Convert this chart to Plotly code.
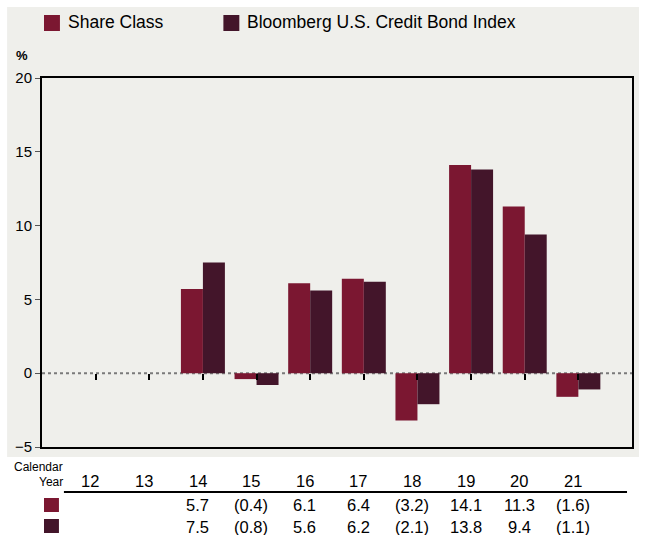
import plotly.graph_objects as go

years = [12, 13, 14, 15, 16, 17, 18, 19, 20, 21]
year_labels = ["12", "13", "14", "15", "16", "17", "18", "19", "20", "21"]
share_class = [None, None, 5.7, -0.4, 6.1, 6.4, -3.2, 14.1, 11.3, -1.6]
index_vals = [None, None, 7.5, -0.8, 5.6, 6.2, -2.1, 13.8, 9.4, -1.1]
share_name = "Share Class"
index_name = "Bloomberg U.S. Credit Bond Index"
y_ticks = [-5, 0, 5, 10, 15, 20]

C_SHARE = "#7B1731"
C_INDEX = "#43152A"
BG = "#EFEFEB"
FONT = "Liberation Sans Narrow, Arial Narrow, Liberation Sans, Arial, sans-serif"

W, H = 646, 535
L, R, T, B = 42, 12, 78, 88
PW, PH = W - L - R, H - T - B


def px(x):
    return (x - L) / PW


def py(y):
    return (H - B - y) / PH


def fmt(v):
    if v is None:
        return ""
    return f"({abs(v):.1f})" if v < 0 else f"{v:.1f}"


fig = go.Figure()
fig.add_trace(go.Bar(x=years, y=share_class, name=share_name, marker_color=C_SHARE,
                     marker_line_width=0, showlegend=False))
fig.add_trace(go.Bar(x=years, y=index_vals, name=index_name, marker_color=C_INDEX,
                     marker_line_width=0, showlegend=False))
# invisible trace carrying the zero-line tick axis
fig.add_trace(go.Scatter(x=years, y=[0] * len(years), xaxis="x2", mode="markers",
                         marker=dict(opacity=0), hoverinfo="skip", showlegend=False))

shapes = []
shapes.append(dict(type="rect", xref="paper", yref="paper", x0=px(7), x1=px(641),
                   y0=py(457), y1=py(7), fillcolor=BG, line_width=0, layer="below"))
shapes.append(dict(type="line", xref="paper", yref="y", x0=0, x1=1, y0=0, y1=0,
                   line=dict(color="#7a7a7a", width=2, dash="dot"), layer="below"))
shapes.append(dict(type="rect", xref="paper", yref="paper", x0=px(44), x1=px(60),
                   y0=py(31), y1=py(15), fillcolor=C_SHARE, line_width=0))
shapes.append(dict(type="rect", xref="paper", yref="paper", x0=px(224), x1=px(240),
                   y0=py(31), y1=py(15), fillcolor=C_INDEX, line_width=0))
shapes.append(dict(type="line", xref="paper", yref="paper", x0=px(64), x1=px(629),
                   y0=py(492), y1=py(492), line=dict(color="black", width=2)))
shapes.append(dict(type="rect", xref="paper", yref="paper", x0=px(44), x1=px(59),
                   y0=py(512), y1=py(498), fillcolor=C_SHARE, line_width=0))
shapes.append(dict(type="rect", xref="paper", yref="paper", x0=px(44), x1=px(59),
                   y0=py(533), y1=py(519), fillcolor=C_INDEX, line_width=0))

ann = []
ann.append(dict(text=share_name, xref="paper", yref="paper", x=px(66), y=py(22),
                xanchor="left", yanchor="middle", showarrow=False,
                font=dict(size=17.5, color="black", family=FONT)))
ann.append(dict(text=index_name, xref="paper", yref="paper", x=px(246), y=py(22),
                xanchor="left", yanchor="middle", showarrow=False,
                font=dict(size=17.5, color="black", family=FONT)))
ann.append(dict(text="<b>%</b>", xref="paper", yref="paper", x=px(22), y=py(55),
                xanchor="center", yanchor="middle", showarrow=False,
                font=dict(size=13, color="black", family=FONT)))
ann.append(dict(text="Calendar", xref="paper", yref="paper", x=px(65), y=py(467),
                xanchor="right", yanchor="middle", showarrow=False,
                font=dict(size=12, color="black", family=FONT)))
ann.append(dict(text="Year", xref="paper", yref="paper", x=px(65), y=py(482),
                xanchor="right", yanchor="middle", showarrow=False,
                font=dict(size=12, color="black", family=FONT)))
for yr, lab, s, i in zip(years, year_labels, share_class, index_vals):
    ann.append(dict(text=lab, xref="x", yref="paper", x=yr - 0.1, y=py(481),
                    xanchor="center", yanchor="middle", showarrow=False,
                    font=dict(size=16.5, color="black", family=FONT)))
    ann.append(dict(text=fmt(s), xref="x", yref="paper", x=yr - 0.1, y=py(505),
                    xanchor="center", yanchor="middle", showarrow=False,
                    font=dict(size=16.5, color="black", family=FONT)))
    ann.append(dict(text=fmt(i), xref="x", yref="paper", x=yr - 0.1, y=py(527),
                    xanchor="center", yanchor="middle", showarrow=False,
                    font=dict(size=16.5, color="black", family=FONT)))

fig.update_layout(
    width=W, height=H,
    margin=dict(l=L, r=R, t=T, b=B, pad=0),
    paper_bgcolor="white", plot_bgcolor=BG,
    barmode="group", bargap=0.18, bargroupgap=0,
    font=dict(family=FONT, color="black"),
    xaxis=dict(range=[11, 22], showticklabels=False, ticks="", showgrid=False,
               zeroline=False, showline=True, mirror=True, linecolor="black",
               linewidth=2),
    xaxis2=dict(range=[11, 22], overlaying="x", anchor="free", position=0.2,
                tickvals=years, ticks="outside", ticklen=6, tickwidth=1.5,
                tickcolor="black", showticklabels=False, showgrid=False,
                zeroline=False, showline=False),
    yaxis=dict(range=[-5, 20], tickvals=y_ticks, ticks="outside", ticklen=5,
               tickwidth=1, tickcolor="#555", showgrid=False, zeroline=False,
               showline=True, mirror=True, linecolor="black", linewidth=2,
               tickfont=dict(size=15, family=FONT, color="black")),
    shapes=shapes, annotations=ann,
)

fig.write_html("out.html", config={"displayModeBar": False},
               post_script="document.body.style.margin='0';document.body.style.overflow='hidden';")
